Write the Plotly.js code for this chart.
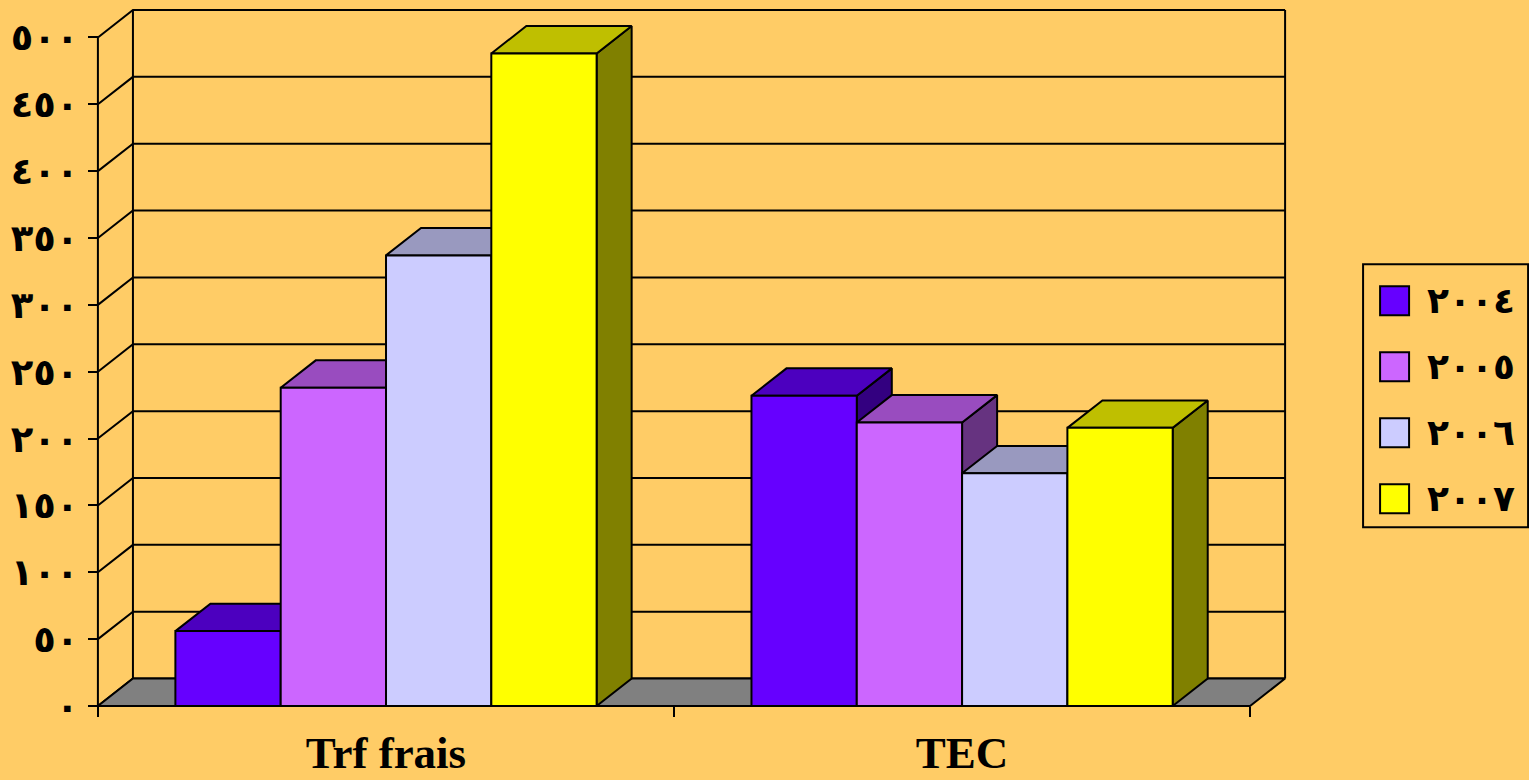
<!DOCTYPE html>
<html>
<head>
<meta charset="utf-8">
<script src="https://cdn.plot.ly/plotly-3.0.1.min.js"></script>
<style>html,body{margin:0;padding:0;background:#FFCC66;}#chart{width:1529px;height:780px;}</style>
</head>
<body>
<div id="chart"></div>
<script>
// ---- data ----
const categories = ['Trf frais', 'TEC'];
const years = ['٢٠٠٤', '٢٠٠٥', '٢٠٠٦', '٢٠٠٧'];
const y2004 = [56, 232];
const y2005 = [238, 212];
const y2006 = [337, 174];
const y2007 = [488, 208];
const yTickVals = [0, 50, 100, 150, 200, 250, 300, 350, 400, 450, 500];
const yTickText = ['٠', '٥٠', '١٠٠', '١٥٠', '٢٠٠', '٢٥٠', '٣٠٠', '٣٥٠', '٤٠٠', '٤٥٠', '٥٠٠'];

// ---- style / geometry ----
const series = [y2004, y2005, y2006, y2007];
const frontColors = ['#6600FF', '#CC66FF', '#CCCCFF', '#FFFF00'];
const topColors   = ['#4C00BF', '#994CBF', '#9999BF', '#BFBF00'];
const sideColors  = ['#330080', '#663380', '#666680', '#808000'];
const W = 1529, H = 780;
const DX = 0.0608;          // depth offset in x units
const DY = 20.5;            // depth offset in y units
const YMAX = 500;
const BW = 0.1828;          // bar width
const GAP = 0.1345;         // left gap inside a category
const xpad = 0.012, ypad = 3;
const kx = 576, ky = 695.5 / (YMAX + DY);
const l = 98 - xpad * kx;
const r = W - (98 + (categories.length + DX + xpad) * kx);
const t = 10 - ypad * ky;
const b = H - (705.5 + ypad * ky);
const pw = W - l - r, ph = H - t - b;
const px = v => (v - l) / pw;
const py = v => 1 - (v - t) / ph;
const nCat = categories.length;
const arabicFont = 'Liberation Serif, DejaVu Sans, serif';

const traces = [];
function poly(xs, ys, fill, lw) {
  traces.push({type: 'scatter', mode: 'lines', x: xs.concat([xs[0]]), y: ys.concat([ys[0]]),
    fill: 'toself', fillcolor: fill, line: {color: '#000', width: lw || 2},
    hoverinfo: 'skip', showlegend: false});
}
function lines(xs, ys, w) {
  traces.push({type: 'scatter', mode: 'lines', x: xs, y: ys, line: {color: '#000', width: w || 2},
    hoverinfo: 'skip', showlegend: false, connectgaps: false});
}

// gridlines: left wall diagonals + back wall horizontals
const gx = [], gy = [];
yTickVals.forEach(v => {
  gx.push(0, DX, nCat + DX, null);
  gy.push(v, v + DY, v + DY, null);
});
lines(gx, gy, 2);
// back wall verticals + front axis line
lines([DX, DX, null, nCat + DX, nCat + DX, null, 0, 0],
      [DY, YMAX + DY, null, DY, YMAX + DY, null, 0, YMAX], 2);
// floor
poly([0, nCat, nCat + DX, DX], [0, 0, DY, DY], '#808080', 2);

// bars (painter's order left to right)
for (let c = 0; c < nCat; c++) {
  for (let s = 0; s < series.length; s++) {
    const v = series[s][c];
    const x0 = c + GAP + s * BW, x1 = x0 + BW;
    poly([x1, x1 + DX, x1 + DX, x1], [0, DY, v + DY, v], sideColors[s], 2);
    poly([x0, x1, x1 + DX, x0 + DX], [v, v, v + DY, v + DY], topColors[s], 2);
    traces.push({type: 'scatter', mode: 'lines', name: years[s],
      x: [x0, x1, x1, x0, x0], y: [0, 0, v, v, 0],
      fill: 'toself', fillcolor: frontColors[s], line: {color: '#000', width: 2},
      text: categories[c] + ': ' + v, hoverinfo: 'text', hoveron: 'fills', showlegend: false});
  }
}

// manual legend
const shapes = [{type: 'rect', xref: 'paper', yref: 'paper',
  x0: px(1363), x1: px(1528), y0: py(264), y1: py(527),
  line: {color: '#000', width: 2}, fillcolor: 'rgba(0,0,0,0)'}];
const annotations = [];
years.forEach((yr, i) => {
  const cy = 300.5 + i * 66;
  shapes.push({type: 'rect', xref: 'paper', yref: 'paper',
    x0: px(1380), x1: px(1409), y0: py(cy - 14.5), y1: py(cy + 14.5),
    line: {color: '#000', width: 2}, fillcolor: frontColors[i]});
  annotations.push({xref: 'paper', yref: 'paper', x: px(1425), y: py(cy),
    xanchor: 'left', yanchor: 'middle', showarrow: false, text: '<b>' + yr + '</b>',
    font: {family: arabicFont, size: 36, color: '#000'}});
});

const layout = {
  width: W, height: H,
  paper_bgcolor: '#FFCC66', plot_bgcolor: 'rgba(0,0,0,0)',
  margin: {l: l, r: r, t: t, b: b, pad: 0},
  showlegend: false,
  xaxis: {range: [-xpad, nCat + DX + xpad], anchor: 'free', position: (ypad * ky) / ph,
    showgrid: false, zeroline: false, showline: false,
    tickmode: 'array', tickvals: categories.map((c, i) => i + 0.5), ticktext: categories,
    ticks: '', ticklabelstandoff: 16,
    tickfont: {family: 'Liberation Serif, Times New Roman, serif', size: 45, color: '#000', weight: 'bold'},
    minor: {tickmode: 'array', tickvals: [0, 1, 2], ticks: 'outside', ticklen: 10, tickwidth: 2, tickcolor: '#000', showgrid: false},
    fixedrange: true},
  yaxis: {range: [-ypad, YMAX + DY + ypad], anchor: 'free', position: (xpad * kx) / pw,
    showgrid: false, zeroline: false, showline: false,
    tickmode: 'array', tickvals: yTickVals, ticktext: yTickText,
    ticks: 'outside', ticklen: 10, tickwidth: 2, tickcolor: '#000', ticklabelstandoff: 2,
    tickfont: {family: arabicFont, size: 37, color: '#000', weight: 'bold'},
    fixedrange: true},
  shapes: shapes,
  annotations: annotations
};

Plotly.newPlot('chart', traces, layout, {displayModeBar: false, responsive: false});
</script>
</body>
</html>
